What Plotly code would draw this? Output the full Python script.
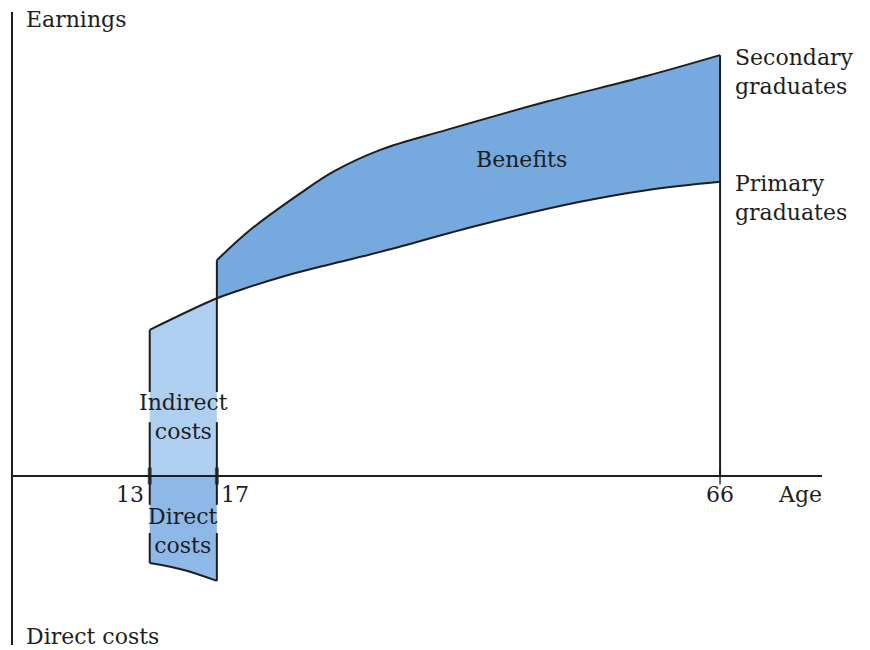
import plotly.graph_objects as go

# Schematic chart: horizontal = position along the age axis (0-100), vertical = earnings index (axis at 0)
tick_ages = ["13", "17", "66"]
tick_pos = [16.9, 25.2, 87.4]

primary_x = [16.9, 25.2, 28.1, 33.4, 39.6, 45.4, 57.7, 70.1, 78.3, 87.4]
primary_y = [31.5, 38.3, 40.1, 43.0, 45.8, 48.3, 54.1, 59.1, 61.6, 63.4]

secondary_x = [25.2, 29.3, 35.5, 39.6, 45.4, 53.6, 66.0, 78.3, 87.4]
secondary_y = [46.5, 53.0, 60.9, 65.6, 70.3, 74.6, 80.7, 86.2, 90.7]

direct_x = [16.9, 21.0, 25.2]
direct_y = [-18.75, -20.2, -22.6]

# label bands where the vertical lines are interrupted by text
indirect_band = [18.1, 11.6]
direct_band = [-6.2, -12.3]

X_RANGE = [0, 100]
Y_RANGE = [-36.42, 100]

C_BEN = "#76A9DE"
C_IND = "#AFCFF0"
C_DIR = "#8DB8E8"
INK = "#1e1e1e"
FONT = "DejaVu Serif"
SM = 1.0

fig = go.Figure()

# Indirect costs area
fig.add_trace(go.Scatter(
    x=[primary_x[0], primary_x[0], primary_x[1], primary_x[1]],
    y=[0, primary_y[0], primary_y[1], 0],
    fill="toself", fillcolor=C_IND, line=dict(width=0), mode="lines", hoverinfo="skip"))

# Direct costs area (between the age axis and the direct-cost curve)
fig.add_trace(go.Scatter(x=direct_x, y=[0] * len(direct_x), mode="lines",
                         line=dict(width=0), hoverinfo="skip"))
fig.add_trace(go.Scatter(x=direct_x, y=direct_y, mode="lines", fill="tonexty", fillcolor=C_DIR,
                         line=dict(width=0, shape="spline"), hoverinfo="skip"))

# Benefits area (between secondary and primary, from 17 to 66)
i17 = primary_x.index(tick_pos[1])
fig.add_trace(go.Scatter(
    x=primary_x[i17:], y=primary_y[i17:], mode="lines",
    line=dict(width=0, shape="spline", smoothing=SM), hoverinfo="skip"))
fig.add_trace(go.Scatter(
    x=secondary_x, y=secondary_y, mode="lines", fill="tonexty", fillcolor=C_BEN,
    line=dict(width=0, shape="spline", smoothing=SM), hoverinfo="skip"))

# Curves
fig.add_trace(go.Scatter(x=primary_x, y=primary_y, mode="lines",
                         line=dict(color=INK, width=2, shape="spline", smoothing=SM), hoverinfo="skip"))
fig.add_trace(go.Scatter(x=secondary_x, y=secondary_y, mode="lines",
                         line=dict(color=INK, width=2, shape="spline", smoothing=SM), hoverinfo="skip"))
fig.add_trace(go.Scatter(x=direct_x, y=direct_y, mode="lines",
                         line=dict(color=INK, width=2, shape="spline"), hoverinfo="skip"))

# Vertical lines
def vline(x, top, bottom):
    return go.Scatter(
        x=[x, x, None, x, x, None, x, x],
        y=[top, indirect_band[0], None, indirect_band[1], direct_band[0], None, direct_band[1], bottom],
        mode="lines", line=dict(color=INK, width=2), hoverinfo="skip")

fig.add_trace(vline(tick_pos[0], primary_y[0], direct_y[0]))
fig.add_trace(vline(tick_pos[1], secondary_y[0], direct_y[-1]))
fig.add_trace(go.Scatter(x=[tick_pos[2], tick_pos[2]], y=[secondary_y[-1], 0],
                         mode="lines", line=dict(color=INK, width=2), hoverinfo="skip"))

# Tick marks on the age axis
fig.add_trace(go.Scatter(x=tick_pos, y=[0, 0, 0], mode="markers",
                         marker=dict(symbol="line-ns", size=[12, 12, 12],
                                     line=dict(color=INK, width=[4, 4, 2])),
                         hoverinfo="skip"))

ann = []
def txt(x, y, s, xanchor="center", xshift=0):
    ann.append(dict(x=x, y=y, text=s, showarrow=False, xanchor=xanchor, yanchor="middle",
                    xref="x", yref="y", xshift=xshift,
                    font=dict(family=FONT, size=22, color=INK),
                    align="center" if xanchor == "center" else "left"))

txt(1.4, 98.4, "Earnings", xanchor="left")
txt(1.4, -34.6, "Direct costs", xanchor="left")
txt(21.05, 12.8, "Indirect<br>costs")
txt(21.05, -11.9, "Direct<br>costs")
txt(62.9, 68.3, "Benefits")
txt(89.0, 87.1, "Secondary<br>graduates", xanchor="left")
txt(89.0, 59.9, "Primary<br>graduates", xanchor="left")
for p, lab, sh in zip(tick_pos, tick_ages, [-20, 18, 0]):
    txt(p, -3.9, lab, xshift=sh)
txt(97.3, -3.9, "Age")

axis_pos = (0 - Y_RANGE[0]) / (Y_RANGE[1] - Y_RANGE[0])

fig.update_layout(
    width=870, height=650,
    margin=dict(l=13, r=48, t=12, b=5),
    plot_bgcolor="white", paper_bgcolor="white",
    showlegend=False,
    annotations=ann,
    xaxis=dict(range=X_RANGE, showgrid=False, zeroline=False, showticklabels=False, ticks="",
               showline=True, linecolor=INK, linewidth=1.5, anchor="free", position=axis_pos,
               layer="above traces"),
    yaxis=dict(range=Y_RANGE, showgrid=False, zeroline=False, showticklabels=False, ticks="",
               showline=True, linecolor=INK, linewidth=2, layer="above traces"),
)

fig.write_html("out.html", config={"displayModeBar": False},
               post_script="document.body.style.margin='0px';")
